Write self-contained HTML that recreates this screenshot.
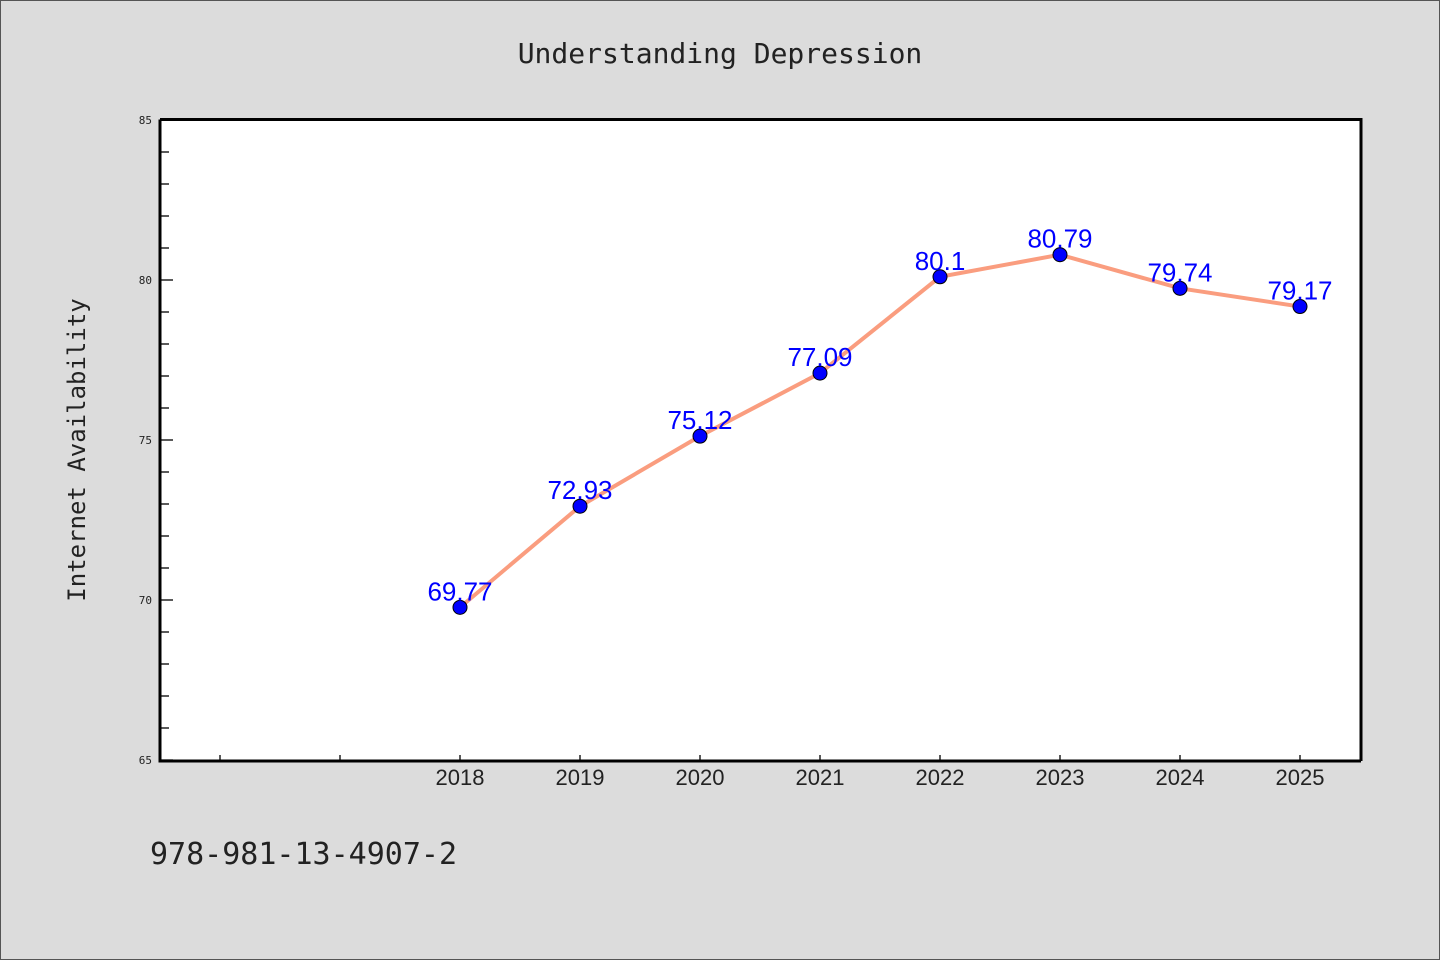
<!DOCTYPE html>
<html><head><meta charset="utf-8"><style>
body{margin:0;background:#dcdcdc;}
svg{display:block;font-family:"DejaVu Sans Mono","Liberation Mono",monospace;}
</style></head><body>
<svg id="chart" width="1440" height="960">
<rect x="0.5" y="0.5" width="1439" height="959" fill="#dcdcdc" stroke="#555"/>
<text x="720" y="63" text-anchor="middle" font-size="28" fill="#222">Understanding Depression</text>
<rect x="160" y="120" width="1201" height="641" fill="#fff"/>
<g id="yticks"></g><g id="xticks"></g>
<polyline id="line" fill="none" stroke="#fa9d7f" stroke-width="4"/>
<g id="points"></g>
<path d="M160,119.5 H1361 V761 M160,119.5 V761 H1361" fill="none" stroke="#000" stroke-width="3"/>
<text transform="translate(85,450) rotate(-90)" text-anchor="middle" font-size="24" fill="#222">Internet Availability</text>
<text x="150" y="864" font-size="30" fill="#222">978-981-13-4907-2</text>
</svg>
<script>
const categories=["","","2018","2019","2020","2021","2022","2023","2024","2025"];
const values=[null,null,69.77,72.93,75.12,77.09,80.1,80.79,79.74,79.17];
const labels=["","","69.77","72.93","75.12","77.09","80.1","80.79","79.74","79.17"];
const yTicks=[65,70,75,80,85];
const NS="http://www.w3.org/2000/svg";
const x0=160,x1=1360,y0=760,y1=120,yMin=65,yMax=85;
const band=(x1-x0)/categories.length;
const X=i=>x0+band*(i+0.5);
const Y=v=>y0-(v-yMin)/(yMax-yMin)*(y0-y1);
function mk(t,a,p){const e=document.createElementNS(NS,t);for(const k in a)e.setAttribute(k,a[k]);p.appendChild(e);return e;}
const yt=document.getElementById('yticks');
for(let v=yMin;v<=yMax;v++){
 const major=yTicks.includes(v);
 const l=mk('line',{x1:161,x2:major?173:169,y1:Y(v),y2:Y(v),stroke:'#000','stroke-width':1.3},yt);
 
 
 if(major){const t=mk('text',{x:152,y:Y(v)+4,'text-anchor':'end','font-size':11,fill:'#222'},yt);t.textContent=v;
 
 }
}
const xt=document.getElementById('xticks');
categories.forEach((c,i)=>{
 const l=mk('line',{x1:X(i),x2:X(i),y1:760,y2:755,stroke:'#000','stroke-width':1.3},xt);
 
 
 const t=mk('text',{x:X(i),y:785,'text-anchor':'middle','font-size':22,fill:'#222','font-family':'Liberation Sans, sans-serif'},xt);t.textContent=c;
 
 
});
const pts=[];values.forEach((v,i)=>{if(v!=null)pts.push(X(i)+','+Y(v));});
document.getElementById('line').setAttribute('points',pts.join(' '));
const pg=document.getElementById('points');
values.forEach((v,i)=>{if(v==null)return;
 const c=mk('circle',{cx:X(i),cy:Y(v),r:7,fill:'#0000ff',stroke:'#000','stroke-width':1},pg);
 
 
 const t=mk('text',{x:X(i),y:Y(v)-7,'text-anchor':'middle','font-size':26,fill:'#0000ff','font-family':'Liberation Sans, sans-serif'},pg);t.textContent=labels[i];
 
 
});
</script>
</body></html>
